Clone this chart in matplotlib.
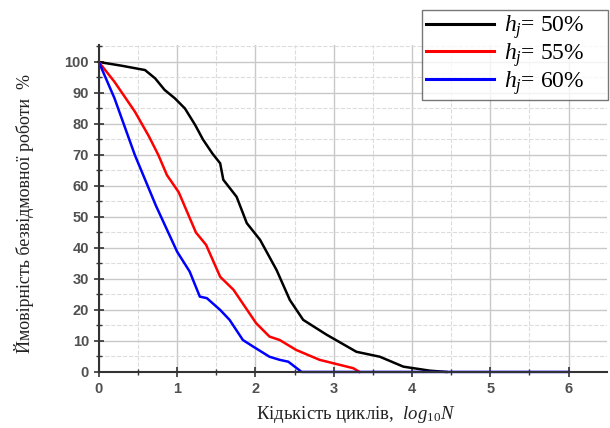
import numpy as np
import matplotlib
matplotlib.use('Agg')
import matplotlib.pyplot as plt
from matplotlib.ticker import MultipleLocator

plt.rcParams['mathtext.fontset'] = 'custom'
plt.rcParams['mathtext.rm'] = 'Liberation Serif'
plt.rcParams['mathtext.it'] = 'Liberation Serif:italic'

# survival curves, log10 N vs probability of failure-free operation (%)
black_x = [0, 0.29, 0.59, 0.72, 0.84, 0.97, 1.10, 1.23, 1.33, 1.45, 1.55, 1.59, 1.76,
           1.89, 2.06, 2.27, 2.44, 2.61, 2.91, 3.29, 3.59, 3.89, 4.23, 4.44]
black_y = [100, 98.8, 97.4, 94.7, 91, 88.3, 85, 79.7, 75, 70.5, 67.3, 62, 56.5,
           48, 42.6, 32.9, 23.2, 16.8, 12, 6.5, 4.9, 1.7, 0.4, 0]

red_x = [0, 0.20, 0.46, 0.64, 0.76, 0.87, 1.02, 1.24, 1.37, 1.55, 1.72, 2.01, 2.18,
         2.31, 2.52, 2.82, 3.25, 3.33]
red_y = [100, 93.6, 84, 76, 70, 63.5, 58, 45, 41, 30.7, 26.5, 15.7, 11.4,
         10.3, 7.1, 3.9, 1.2, 0]

blue_x = [0, 0.20, 0.46, 0.73, 1.00, 1.16, 1.29, 1.38, 1.55, 1.67, 1.84, 1.97, 2.18,
          2.31, 2.42, 2.59, 6.0]
blue_y = [100, 88.3, 70, 53.6, 38.8, 32.4, 24.3, 23.8, 20, 16.8, 10.3, 8.2, 4.9,
          3.9, 3.3, 0, 0]

labels = [r'$h_j$= 50%', r'$h_j$= 55%', r'$h_j$= 60%']
colors = ['#000000', '#ff0000', '#0000ff']

fig = plt.figure(figsize=(6.1, 4.28), dpi=100)
ax = fig.add_axes([0.162, 0.131, 0.833, 0.764])

ax.xaxis.set_major_locator(MultipleLocator(1))
ax.xaxis.set_minor_locator(MultipleLocator(0.5))
ax.yaxis.set_major_locator(MultipleLocator(10))
ax.yaxis.set_minor_locator(MultipleLocator(5))
ax.grid(which='major', color='#c8c8c8', linewidth=1.0, linestyle='-')
ax.grid(which='minor', color='#dcdcdc', linewidth=0.8, linestyle='--')
ax.set_axisbelow(True)

lines = []
for xs, ys, c, lab in zip([black_x, red_x, blue_x], [black_y, red_y, blue_y], colors, labels):
    l, = ax.plot(xs, ys, color=c, linewidth=1.8, label=lab, clip_on=False)
    lines.append(l)

ax.set_xlim(0, 6.49)
ax.set_ylim(0, 105.5)
ax.set_xticks(np.arange(0, 7, 1))
ax.set_yticks(np.arange(0, 101, 10))

for s in ['top', 'right']:
    ax.spines[s].set_visible(False)
for s in ['left', 'bottom']:
    ax.spines[s].set_color('#333333')
    ax.spines[s].set_linewidth(1.5)

ax.tick_params(which='major', direction='inout', length=7, width=1.2, color='#333333',
               labelsize=10.5, labelcolor='#505050')
ax.tick_params(which='minor', direction='inout', length=4, width=1.0, color='#333333')
for t in ax.get_xticklabels() + ax.get_yticklabels():
    t.set_fontfamily('Liberation Sans')
    t.set_fontweight('bold')

ax.set_ylabel('Ймовірність безвідмовної роботи  %', family='Liberation Serif',
              fontsize=13, color='#222222')
ax.yaxis.set_label_coords(-0.128, 0.483)
ax.set_xlabel(r'Кідькість циклів,  $log_{10}N$', family='Liberation Serif',
              fontsize=13.5, color='#222222')
ax.xaxis.set_label_coords(0.506, -0.098)

leg = fig.legend(handles=lines, loc='upper left', mode='expand',
                 bbox_to_anchor=(0.692, 0.977 - 0.2, 0.305, 0.2),
                 prop={'family': 'Liberation Serif', 'size': 17}, frameon=True,
                 fancybox=False, edgecolor='#555555', handlelength=2.9,
                 handletextpad=0.4, labelspacing=0.0, borderpad=0.15, borderaxespad=0)
leg.get_frame().set_linewidth(1.0)
for h in leg.get_lines():
    h.set_linewidth(2.2)

fig.savefig('out.png', dpi=100)
